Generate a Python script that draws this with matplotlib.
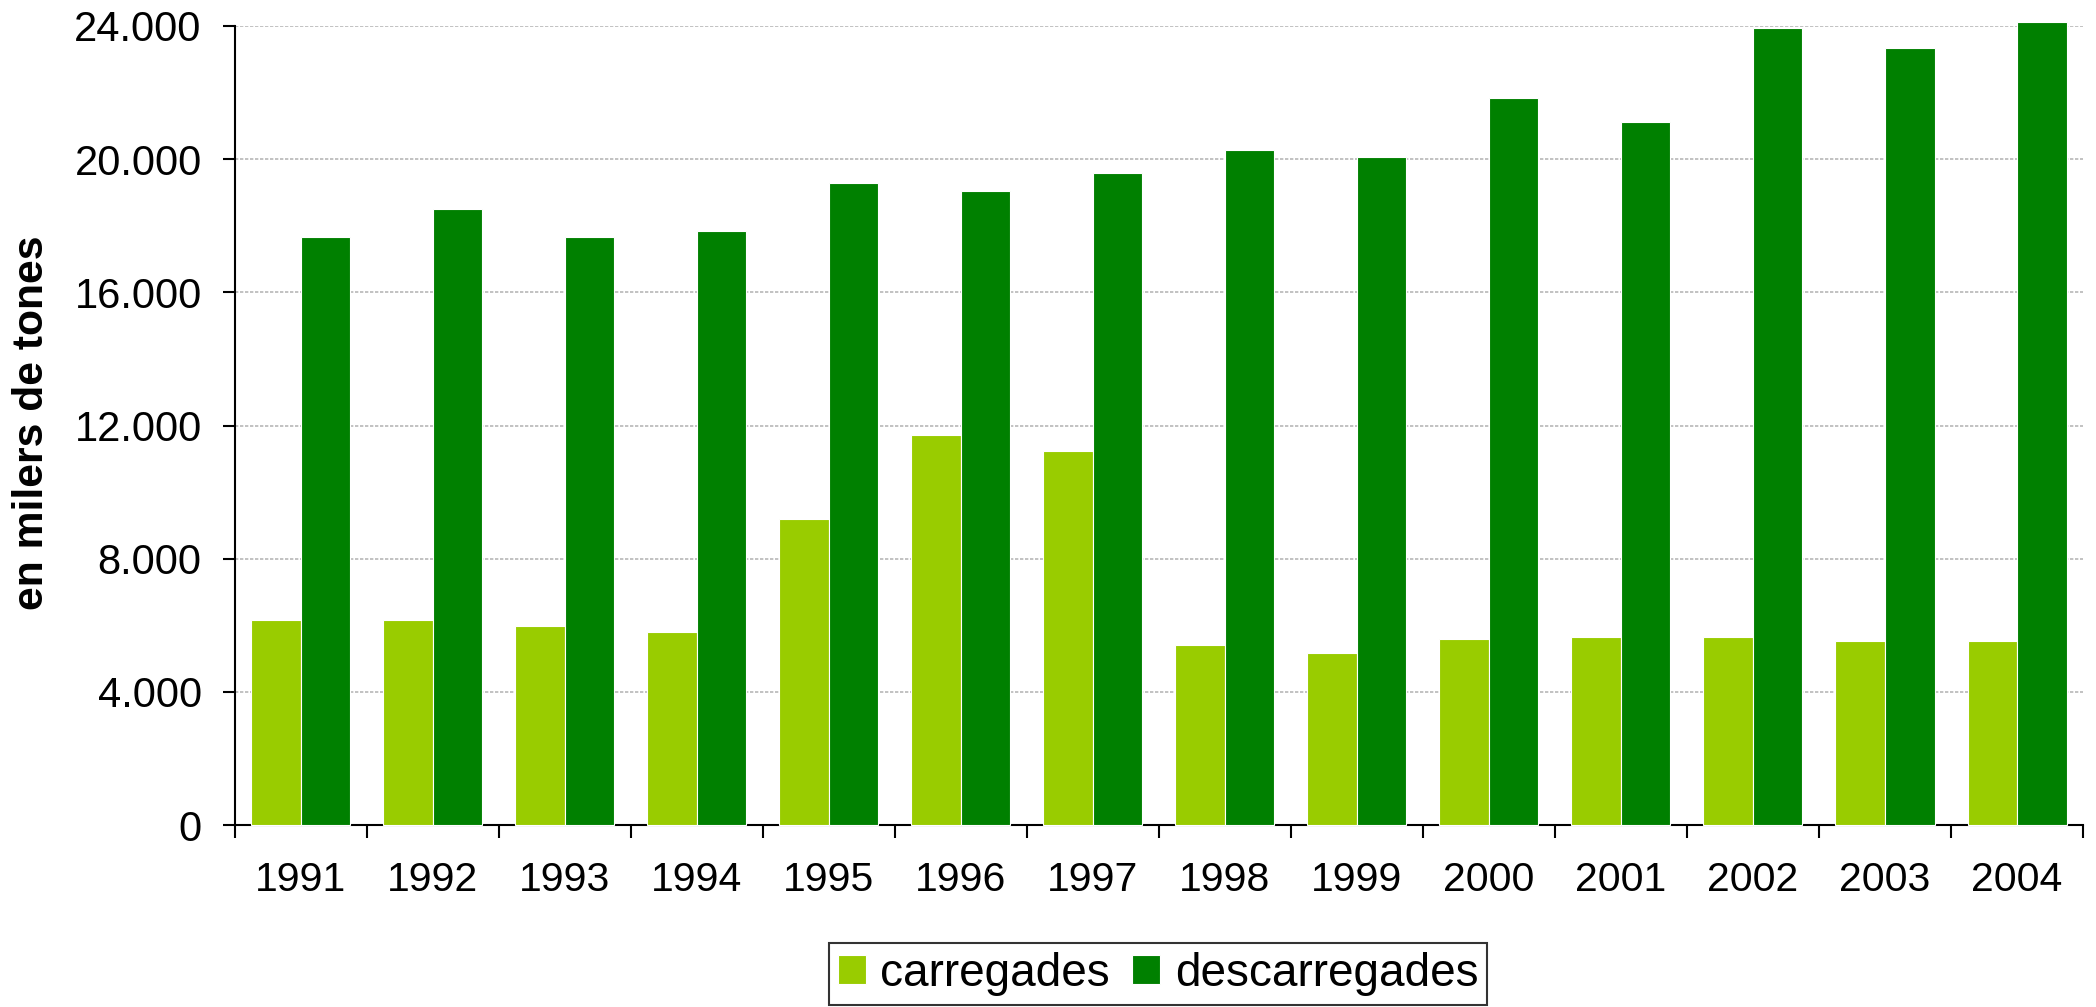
import matplotlib
matplotlib.use("Agg")
import matplotlib.pyplot as plt
import numpy as np

plt.rcParams['font.family'] = ['Liberation Sans', 'DejaVu Sans']

anys = ['1991', '1992', '1993', '1994', '1995', '1996', '1997',
        '1998', '1999', '2000', '2001', '2002', '2003', '2004']
carregades = [6160, 6160, 5980, 5800, 9200, 11710, 11230,
              5400, 5160, 5580, 5640, 5640, 5520, 5520]
descarregades = [17650, 18490, 17650, 17840, 19290, 19040, 19590,
                 20260, 20070, 21840, 21110, 23930, 23340, 24130]
yticks = [0, 4000, 8000, 12000, 16000, 20000, 24000]

fig = plt.figure(figsize=(20.96, 10.07), dpi=100)
ax = fig.add_axes([0.1121, 0.1807, 0.8817, 0.7935])

x = np.arange(len(anys))
w = 0.375
ax.bar(x - w / 2, carregades, w, color='#99CC00', edgecolor='white',
       linewidth=0.8, label='carregades', clip_on=False, zorder=3)
ax.bar(x + w / 2, descarregades, w, color='#008000', edgecolor='white',
       linewidth=0.8, label='descarregades', clip_on=False, zorder=3)

ax.set_xlim(-0.5, len(anys) - 0.5)
ax.set_ylim(0, 24000)
ax.set_yticks(yticks)
ax.set_yticklabels([f'{v:,}'.replace(',', '.') for v in yticks],
                   fontsize=30)
for v in yticks[1:]:
    ax.axhline(v, color='#b8b8b8', lw=1.2, ls=(0, (2, 1)), zorder=1)

# separadors entre anys
ax.set_xticks(np.arange(len(anys) + 1) - 0.5)
ax.set_xticklabels([])
ax.set_xticks(x, minor=True)
ax.set_xticklabels(anys, minor=True, fontsize=29.5)
ax.tick_params(axis='x', which='major', length=9, width=1.5, direction='out')
ax.tick_params(axis='x', which='minor', length=0, pad=26)
ax.tick_params(axis='y', length=9, width=1.5, direction='out', pad=15)

for s in ['top', 'right']:
    ax.spines[s].set_visible(False)
for s in ['left', 'bottom']:
    ax.spines[s].set_linewidth(1.5)

fig.text(0.0155, 0.58, 'en milers de tones', rotation=90, ha='center',
         va='center', fontsize=30.7, fontweight='bold')

leg = fig.legend(loc='upper center', bbox_to_anchor=(0.5525, 0.064), ncol=2,
                 fontsize=33, frameon=True, fancybox=False, edgecolor='black',
                 handlelength=0.61, handleheight=0.61, handletextpad=0.32,
                 columnspacing=0.48, borderpad=0.2, borderaxespad=0.0)
leg.get_frame().set_linewidth(1.5)

fig.savefig('out.png', dpi=100)
